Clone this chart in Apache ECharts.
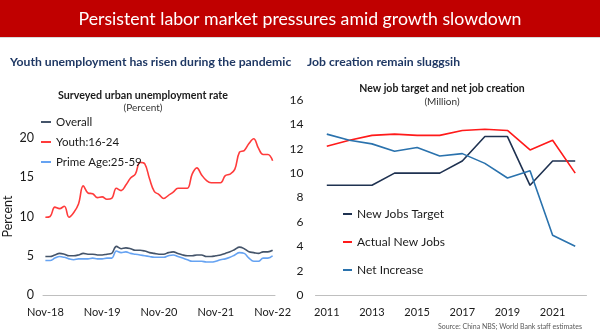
<!DOCTYPE html>
<html>
<head>
<meta charset="utf-8">
<script src="https://cdn.jsdelivr.net/npm/echarts@6/dist/echarts.min.js"></script>
<style>
  html, body { margin: 0; padding: 0; background: #fff; }
  #chart { width: 600px; height: 334px; }
</style>
</head>
<body>
<div id="chart"></div>
<script>
// Monthly surveyed urban unemployment rate, Nov-2018 .. Nov-2022 (percent)
const months = [
  'Nov-18','Dec-18',
  'Jan-19','Feb-19','Mar-19','Apr-19','May-19','Jun-19','Jul-19','Aug-19','Sep-19','Oct-19','Nov-19','Dec-19',
  'Jan-20','Feb-20','Mar-20','Apr-20','May-20','Jun-20','Jul-20','Aug-20','Sep-20','Oct-20','Nov-20','Dec-20',
  'Jan-21','Feb-21','Mar-21','Apr-21','May-21','Jun-21','Jul-21','Aug-21','Sep-21','Oct-21','Nov-21','Dec-21',
  'Jan-22','Feb-22','Mar-22','Apr-22','May-22','Jun-22','Jul-22','Aug-22','Sep-22','Oct-22','Nov-22'
];
const overallRate = [
  4.9, 4.9,
  5.1, 5.3, 5.2, 5.0, 5.0, 5.1, 5.3, 5.2, 5.2, 5.1, 5.1, 5.2,
  5.3, 6.2, 5.9, 6.0, 5.9, 5.7, 5.7, 5.6, 5.4, 5.3, 5.2, 5.2,
  5.4, 5.5, 5.3, 5.1, 5.0, 5.0, 5.1, 5.1, 4.9, 4.9, 5.0, 5.1,
  5.3, 5.5, 5.8, 6.1, 5.9, 5.5, 5.4, 5.3, 5.5, 5.5, 5.7
];
const youthRate = [
  9.9, 10.0,
  11.2, 11.0, 11.3, 9.9, 10.5, 11.6, 13.9, 13.0, 12.9, 12.4, 12.5, 12.2,
  12.3, 13.6, 13.3, 14.0, 14.9, 15.4, 16.9, 16.7, 14.8, 13.2, 12.8, 12.3,
  12.7, 13.1, 13.6, 13.6, 13.6, 15.4, 16.2, 15.3, 14.6, 14.3, 14.3, 14.3,
  15.2, 15.4, 16.0, 18.2, 18.4, 19.3, 19.9, 18.7, 17.9, 17.9, 17.1
];
const primeAgeRate = [
  4.4, 4.4,
  4.7, 4.9, 4.8, 4.6, 4.5, 4.6, 4.6, 4.6, 4.7, 4.6, 4.6, 4.7,
  4.7, 5.6, 5.4, 5.5, 5.3, 5.2, 5.1, 5.0, 4.9, 4.8, 4.8, 4.8,
  5.0, 5.1, 4.9, 4.7, 4.5, 4.3, 4.3, 4.3, 4.2, 4.2, 4.3, 4.5,
  4.6, 4.8, 5.1, 5.4, 5.3, 4.7, 4.3, 4.3, 4.7, 4.7, 5.0
];

// Annual job figures (million)
const years = ['2011','2012','2013','2014','2015','2016','2017','2018','2019','2020','2021','2022'];
const newJobsTarget = [9, 9, 9, 10, 10, 10, 11, 13, 13, 9, 11, 11];
const actualNewJobs = [12.2, 12.7, 13.1, 13.2, 13.1, 13.1, 13.5, 13.6, 13.5, 11.9, 12.7, 10.0];
const netIncrease = [13.2, 12.7, 12.4, 11.8, 12.1, 11.4, 11.6, 10.8, 9.6, 10.2, 4.9, 4.0];

const FONT = "Lato, 'Noto Sans', sans-serif";
const NAVY = '#1F3864';
const INK = '#1a1a1a';

const chart = echarts.init(document.getElementById('chart'), null, { renderer: 'canvas' });

const axisLine = { show: true, lineStyle: { color: '#BFBFBF', width: 1 } };
const noLine = { show: false };

function heading(text, opts, style) {
  return Object.assign({ text, padding: 0, textStyle: Object.assign({ fontFamily: FONT }, style) }, opts);
}

chart.setOption({
  animation: false,
  backgroundColor: '#ffffff',
  textStyle: { fontFamily: FONT },
  graphic: [
    { type: 'rect', shape: { x: 0, y: 0, width: 600, height: 37 }, style: { fill: '#C00000' }, z: 0 },
    { type: 'rect', shape: { x: 0, y: 37, width: 600, height: 1 }, style: { fill: '#D9D9D9' }, z: 0 }
  ],
  title: [
    heading('Persistent labor market pressures amid growth slowdown',
      { left: 'center', top: 10, z: 10 },
      { color: '#ffffff', fontSize: 17.7, fontWeight: 'normal' }),
    heading('Youth unemployment has risen during the pandemic',
      { left: 10, top: 56 },
      { color: NAVY, fontSize: 12.2, fontWeight: 'bold' }),
    heading('Job creation remain sluggsih',
      { left: 307, top: 56 },
      { color: NAVY, fontSize: 12.2, fontWeight: 'bold' }),
    heading('Surveyed urban unemployment rate',
      { left: 143, textAlign: 'center', top: 90 },
      { color: INK, fontSize: 10.7, fontWeight: 'bold' }),
    heading('(Percent)',
      { left: 143, textAlign: 'center', top: 103 },
      { color: '#333', fontSize: 10, fontWeight: 'normal' }),
    heading('New job target and net job creation',
      { left: 442, textAlign: 'center', top: 83 },
      { color: INK, fontSize: 10.5, fontWeight: 'bold' }),
    heading('(Million)',
      { left: 442, textAlign: 'center', top: 97 },
      { color: '#333', fontSize: 10, fontWeight: 'normal' }),
    heading('Source: China NBS; World Bank staff estimates',
      { right: 18, top: 323.5 },
      { color: '#595959', fontSize: 7, fontWeight: 'normal' })
  ],
  legend: [
    { orient: 'vertical', left: 41, top: 116, padding: 0, itemWidth: 10, itemHeight: 2, itemGap: 8,
      icon: 'rect', data: ['Overall', 'Youth:16-24', 'Prime Age:25-59'],
      textStyle: { color: INK, fontSize: 11.5, fontFamily: FONT } },
    { orient: 'vertical', left: 343, top: 208, padding: 0, itemWidth: 9, itemHeight: 2, itemGap: 16,
      icon: 'rect', data: ['New Jobs Target', 'Actual New Jobs', 'Net Increase'],
      textStyle: { color: INK, fontSize: 12, fontFamily: FONT } }
  ],
  grid: [
    { left: 41, right: 325, top: 138, bottom: 39 },
    { left: 315.5, right: 13.5, top: 100, bottom: 39 }
  ],
  xAxis: [
    { gridIndex: 0, type: 'category', data: months, boundaryGap: true,
      axisLine, axisTick: noLine,
      axisLabel: { interval: 11, margin: 12, color: INK, fontSize: 11, fontFamily: FONT } },
    { gridIndex: 1, type: 'category', data: years, boundaryGap: true,
      axisLine, axisTick: noLine,
      axisLabel: { interval: 1, margin: 12, color: INK, fontSize: 11, fontFamily: FONT } }
  ],
  yAxis: [
    { gridIndex: 0, type: 'value', min: 0, max: 20, interval: 5,
      name: 'Percent', nameLocation: 'middle', nameGap: 29,
      nameTextStyle: { color: INK, fontSize: 12.5, fontFamily: FONT },
      axisLine: noLine, axisTick: noLine, splitLine: noLine,
      axisLabel: { margin: 9, color: INK, fontSize: 12.5, fontFamily: FONT } },
    { gridIndex: 1, type: 'value', min: 0, max: 16, interval: 2,
      axisLine: noLine, axisTick: noLine, splitLine: noLine,
      axisLabel: { margin: 12, color: INK, fontSize: 12, fontFamily: FONT } }
  ],
  series: [
    { name: 'Overall', type: 'line', xAxisIndex: 0, yAxisIndex: 0, data: overallRate,
      smooth: 0.4, symbol: 'none', color: '#44546A', lineStyle: { width: 1.6 } },
    { name: 'Youth:16-24', type: 'line', xAxisIndex: 0, yAxisIndex: 0, data: youthRate,
      smooth: 0.4, symbol: 'none', color: '#FF3B3B', lineStyle: { width: 1.6 } },
    { name: 'Prime Age:25-59', type: 'line', xAxisIndex: 0, yAxisIndex: 0, data: primeAgeRate,
      smooth: 0.4, symbol: 'none', color: '#66A3F2', lineStyle: { width: 1.6 } },
    { name: 'New Jobs Target', type: 'line', xAxisIndex: 1, yAxisIndex: 1, data: newJobsTarget,
      symbol: 'none', color: '#1F3251', lineStyle: { width: 1.6 } },
    { name: 'Actual New Jobs', type: 'line', xAxisIndex: 1, yAxisIndex: 1, data: actualNewJobs,
      symbol: 'none', color: '#FF1A1A', lineStyle: { width: 1.6 } },
    { name: 'Net Increase', type: 'line', xAxisIndex: 1, yAxisIndex: 1, data: netIncrease,
      symbol: 'none', color: '#2A72AD', lineStyle: { width: 1.6 } }
  ]
});
</script>
</body>
</html>
